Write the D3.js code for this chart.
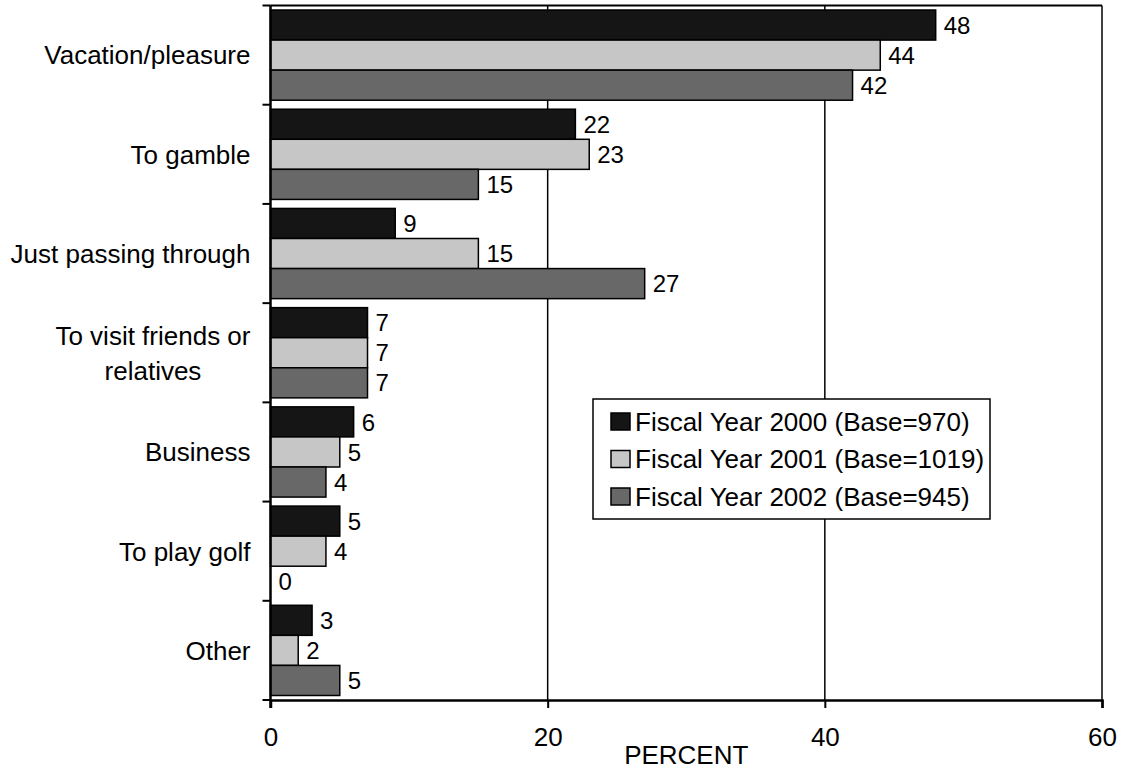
<!DOCTYPE html>
<html>
<head>
<meta charset="utf-8">
<script src="https://cdn.jsdelivr.net/npm/d3@7"></script>
<style>
  body { margin: 0; background: #fff; }
  svg { display: block; }
</style>
</head>
<body>
<div id="chart"></div>
<script>
// categories and series
let categories = ["Vacation/pleasure", "To gamble", "Just passing through",
  "To visit friends or\nrelatives", "Business", "To play golf", "Other"];
let seriesNames = ["Fiscal Year 2000 (Base=970)", "Fiscal Year 2001 (Base=1019)", "Fiscal Year 2002 (Base=945)"];
let fy2000 = [48, 22, 9, 7, 6, 5, 3];
let fy2001 = [44, 23, 15, 7, 5, 4, 2];
let fy2002 = [42, 15, 27, 7, 4, 0, 5];
let xTicks = [0, 20, 40, 60];
let colors = ["#151515", "#c6c6c6", "#686868"];

let allSeries = [fy2000, fy2001, fy2002];

let width = 1128;
let height = 769;
let margin = {"top": 5.5, "bottom": 69, "right": 26, "left": 270.5};
let font = "'Liberation Sans', Arial, sans-serif";

let svg = d3.select("#chart")
  .append("svg")
  .attr("width", width)
  .attr("height", height);

// scales
let xScale = d3.scaleLinear()
  .domain([0, 60])
  .range([margin.left, width - margin.right]);

let yScale = d3.scaleBand()
  .domain(categories)
  .range([margin.top, height - margin.bottom]);

let subScale = d3.scaleBand()
  .domain(d3.range(seriesNames.length))
  .range([4.5, yScale.bandwidth() - 4.5]);

// gridlines + frame
svg.append("g")
  .selectAll("line")
  .data(xTicks.slice(1))
  .enter()
  .append("line")
  .attr("x1", d => xScale(d))
  .attr("x2", d => xScale(d))
  .attr("y1", margin.top)
  .attr("y2", height - margin.bottom)
  .attr("stroke", "#000")
  .attr("stroke-width", 1.5);

svg.append("line")
  .attr("x1", margin.left)
  .attr("x2", width - margin.right)
  .attr("y1", margin.top)
  .attr("y2", margin.top)
  .attr("stroke", "#000")
  .attr("stroke-width", 2);

// bars
let rows = categories.map((c, i) => ({cat: c, vals: allSeries.map(s => s[i])}));

let groups = svg.append("g")
  .selectAll("g")
  .data(rows)
  .enter()
  .append("g")
  .attr("transform", d => "translate(0," + yScale(d.cat) + ")");

groups.selectAll("rect")
  .data(d => d.vals.map((v, k) => ({v: v, k: k})))
  .enter()
  .append("rect")
  .attr("x", xScale(0))
  .attr("y", d => subScale(d.k))
  .attr("width", d => xScale(d.v) - xScale(0))
  .attr("height", subScale.bandwidth())
  .attr("fill", d => colors[d.k])
  .attr("stroke", "#000")
  .attr("stroke-width", 1.5);

groups.selectAll("text")
  .data(d => d.vals.map((v, k) => ({v: v, k: k})))
  .enter()
  .append("text")
  .attr("x", d => xScale(d.v) + 8)
  .attr("y", d => subScale(d.k) + subScale.bandwidth() / 2)
  .attr("dy", "0.36em")
  .attr("font-family", font)
  .attr("font-size", "24px")
  .attr("fill", "#000")
  .text(d => d.v);

// axes
let axisx = d3.axisBottom(xScale).tickValues(xTicks).tickSize(8).tickPadding(20);
let gx = svg.append("g")
  .attr("transform", "translate(0," + (height - margin.bottom) + ")")
  .call(axisx);
gx.select(".domain").attr("stroke-width", 2.5);
gx.selectAll(".tick line").attr("stroke-width", 2);
gx.selectAll(".tick text")
  .attr("font-family", font)
  .attr("font-size", "26px")
  .attr("fill", "#000");

gx.append("text")
  .attr("x", (margin.left + width - margin.right) / 2)
  .attr("y", 64)
  .attr("text-anchor", "middle")
  .attr("font-family", font)
  .attr("font-size", "26px")
  .attr("fill", "#000")
  .text("PERCENT");

// left axis: ticks on band edges
let gy = svg.append("g");
gy.append("line")
  .attr("x1", margin.left).attr("x2", margin.left)
  .attr("y1", margin.top).attr("y2", height - margin.bottom + 8)
  .attr("stroke", "#000").attr("stroke-width", 2.5);
let edges = categories.map(c => yScale(c)).concat([height - margin.bottom]);
gy.selectAll(".edge")
  .data(edges)
  .enter()
  .append("line")
  .attr("x1", margin.left - 8).attr("x2", margin.left)
  .attr("y1", d => d).attr("y2", d => d)
  .attr("stroke", "#000").attr("stroke-width", 2);

// category labels (multi-line centred in a right-aligned block)
let labelRight = margin.left - 20;
categories.forEach(c => {
  let lines = c.split("\n");
  let t = gy.append("text")
    .attr("font-family", font)
    .attr("font-size", "26px")
    .attr("fill", "#000");
  let spans = lines.map(l => t.append("tspan").text(l));
  let maxW = d3.max(spans, s => s.node().getComputedTextLength());
  let cy = yScale(c) + yScale.bandwidth() / 2;
  let lh = 35;
  spans.forEach((s, i) => {
    s.attr("x", labelRight - maxW / 2)
      .attr("text-anchor", "middle")
      .attr("y", cy + (i - (lines.length - 1) / 2) * lh)
      .attr("dy", "0.36em");
  });
});

// legend
let legend = svg.append("g").attr("transform", "translate(593,399)");
legend.append("rect")
  .attr("width", 397)
  .attr("height", 120)
  .attr("fill", "#fff")
  .attr("stroke", "#000")
  .attr("stroke-width", 1.5);

let items = legend.selectAll(".item")
  .data(seriesNames)
  .enter()
  .append("g")
  .attr("transform", (d, i) => "translate(0," + (22.5 + i * 37.5) + ")");

items.append("rect")
  .attr("x", 18)
  .attr("y", -8.5)
  .attr("width", 19)
  .attr("height", 17)
  .attr("fill", (d, i) => colors[i])
  .attr("stroke", "#000")
  .attr("stroke-width", 1.5);

items.append("text")
  .attr("x", 42)
  .attr("dy", "0.36em")
  .attr("font-family", font)
  .attr("font-size", "26px")
  .attr("fill", "#000")
  .text(d => d);
</script>
</body>
</html>
